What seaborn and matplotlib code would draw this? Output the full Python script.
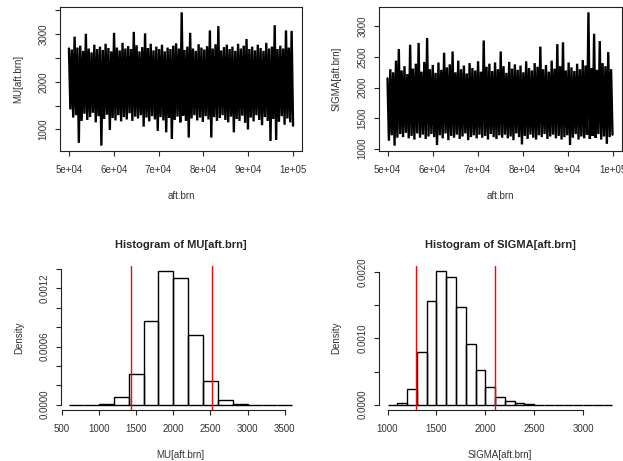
import numpy as np
import pandas as pd
import seaborn as sns
import matplotlib
matplotlib.use('Agg')
import matplotlib.pyplot as plt

# ---- data ----
iter_start, iter_end = 50000, 100000

mu_trace = [
    2700, 1420, 2680, 1250, 2950, 1300, 2720, 720, 2760, 1180, 2650, 1330, 3010, 1200, 2700, 1260,
    2620, 1350, 2780, 1150, 2690, 1280, 2740, 660, 2670, 1220, 2800, 1310, 2710, 990, 2640, 1240,
    3030, 1190, 2720, 1300, 2660, 1170, 2820, 1260, 2700, 1210, 2750, 1340, 2690, 1180, 3050, 1270,
    2770, 1230, 2640, 1300, 2730, 1060, 3020, 1250, 2710, 1170, 2800, 1280, 2660, 1210, 2740, 970,
    2690, 1260, 2780, 1190, 2640, 940, 2720, 1240, 2690, 800, 2760, 1200, 2810, 1270, 2700, 1150,
    3460, 1290, 2670, 1180, 2740, 830, 3030, 1230, 2700, 1300, 2650, 1190, 2790, 1250, 2720, 1160,
    2680, 1280, 2750, 1210, 3080, 830, 2700, 1260, 2790, 1180, 3170, 1240, 2660, 1300, 2730, 1200,
    2780, 1150, 2690, 1270, 2740, 940, 2650, 1220, 2800, 1180, 2700, 1290, 2760, 1140, 2900, 1000,
    2690, 1250, 2740, 1170, 2660, 1300, 2780, 1200, 2710, 1090, 2650, 1260, 2820, 1180, 2700, 760,
    2740, 1220, 3190, 780, 2690, 1160, 2760, 1280, 2700, 1100, 3080, 1230, 2720, 1150, 3070, 1080,
]

sigma_trace = [
    2150, 1130, 2300, 1220, 2250, 1050, 2440, 1180, 2630, 1240, 2280, 1190, 2350, 1260, 2220, 1170,
    2700, 1210, 2310, 1150, 2390, 1250, 2730, 1180, 2260, 1230, 2420, 1160, 2810, 1200, 2300, 1240,
    2370, 1190, 2240, 1060, 2410, 1220, 2290, 1170, 2570, 1250, 2330, 1140, 2380, 1210, 2590, 1180,
    2250, 1230, 2440, 1160, 2300, 1200, 2360, 1250, 2230, 1140, 2400, 1190, 2320, 1220, 2280, 1170,
    2430, 1230, 2260, 1180, 2770, 1210, 2340, 1150, 2390, 1240, 2270, 1190, 2410, 1160, 2300, 1220,
    2590, 1180, 2350, 1230, 2240, 1170, 2420, 1200, 2310, 1140, 2380, 1250, 2290, 1190, 2360, 1070,
    2250, 1210, 2430, 1160, 2320, 1230, 2280, 1180, 2400, 1150, 2340, 1220, 2670, 1190, 2300, 1240,
    2370, 1160, 2260, 1200, 2440, 1230, 2310, 1170, 2710, 1210, 2350, 1150, 2740, 1190, 2280, 1220,
    2410, 1060, 2330, 1180, 2270, 1240, 2390, 1150, 2300, 1200, 2450, 1170, 2360, 1230, 3230, 1160,
    2320, 1210, 2880, 1180, 2290, 1240, 2760, 1150, 2400, 1200, 2350, 1080, 2580, 1190, 2300, 1230,
]

trace_xticks = [50000, 60000, 70000, 80000, 90000, 100000]
trace_xticklabels = ['5e+04', '6e+04', '7e+04', '8e+04', '9e+04', '1e+05']

mu_breaks = list(range(600, 3601, 200))
mu_density = [0, 0, 0.000007, 0.000076, 0.000318, 0.000868, 0.001376, 0.001307,
              0.000719, 0.000249, 0.000048, 0.000007, 0, 0, 0]
mu_lines = [1431, 2515]

sigma_breaks = list(range(1000, 3301, 100))
sigma_density = [0, 0.00002, 0.000238, 0.000795, 0.001564, 0.002015, 0.001924, 0.001478,
                 0.000921, 0.000521, 0.000273, 0.000122, 0.000061, 0.00003, 0.000015,
                 0, 0, 0, 0, 0, 0, 0, 0]
sigma_lines = [1290, 2097]


def r_lim(lo, hi):
    # R pads axis ranges by 4% on each side
    d = (hi - lo) * 0.04
    return lo - d, hi + d


sns.set_theme(style='ticks')
plt.rcParams['font.family'] = ['Liberation Sans', 'DejaVu Sans']
plt.rcParams.update({
    'axes.linewidth': 0.8,
    'xtick.major.size': 3.4, 'ytick.major.size': 3.4,
    'xtick.major.width': 0.8, 'ytick.major.width': 0.8,
    'xtick.major.pad': 7, 'ytick.major.pad': 4.7,
    'xtick.labelsize': 7, 'ytick.labelsize': 7,
    'axes.labelsize': 7,
    'xtick.labelcolor': '#333333', 'ytick.labelcolor': '#333333',
    'axes.labelcolor': '#333333',
})

fig = plt.figure(figsize=(6.23, 4.61), dpi=100)
W, H = 623, 461


def px_axes(x0, y0, x1, y1):
    return fig.add_axes([x0 / W, 1 - y1 / H, (x1 - x0) / W, (y1 - y0) / H])


def place_labels(ax, xlabel, ylabel, width_px, height_px):
    ax.set_xlabel(xlabel)
    ax.set_ylabel(ylabel)
    ax.xaxis.label.set_va('center')
    ax.yaxis.label.set_va('center')
    ax.xaxis.set_label_coords(0.5, -45 / height_px)
    ax.yaxis.set_label_coords(-42 / width_px, 0.5)


def trace_panel(ax, values, ylabel, yticks, ylabels):
    iters = np.linspace(iter_start, iter_end, len(values))
    sns.lineplot(x=iters, y=values, color='black', linewidth=1.7,
                 solid_joinstyle='bevel', ax=ax)
    ax.set_xlim(r_lim(iter_start, iter_end))
    ax.set_ylim(r_lim(min(values), max(values)))
    ax.set_xticks(trace_xticks)
    ax.set_xticklabels(trace_xticklabels)
    ax.set_yticks(yticks)
    ax.set_yticklabels(ylabels, rotation=90, va='center')
    for s in ax.spines.values():
        s.set_color('#222222')
    place_labels(ax, 'aft.brn', ylabel, 242, 144)


def hist_panel(ax, breaks, density, lines, title, xlabel, xticks, yticks, ylabels):
    mids = [(a + b) / 2 for a, b in zip(breaks[:-1], breaks[1:])]
    df = pd.DataFrame({'value': mids, 'density': density})
    sns.histplot(data=df, x='value', weights='density', bins=breaks, stat='count',
                 fill=False, color='black', linewidth=1.0, ax=ax)
    for v in lines:
        ax.axvline(v, color='red', linewidth=1.0)
    ax.set_xlim(r_lim(breaks[0], breaks[-1]))
    ax.set_ylim(r_lim(0, max(density)))
    ax.set_xticks(xticks)
    ax.set_xticklabels([str(t) for t in xticks])
    ax.set_yticks(yticks)
    ax.set_yticklabels(ylabels, rotation=90, va='center')
    sns.despine(ax=ax)
    ax.spines['bottom'].set_bounds(xticks[0], xticks[-1])
    ax.spines['left'].set_bounds(yticks[0], yticks[-1])
    ax.spines['bottom'].set_color('#222222')
    ax.spines['left'].set_color('#222222')
    ax.set_title(title, fontsize=8, fontweight='bold', pad=13)
    place_labels(ax, xlabel, 'Density', 242, 144)


ax1 = px_axes(60, 7, 302, 151)
trace_panel(ax1, mu_trace, 'MU[aft.brn]',
            [1000, 1500, 2000, 2500, 3000, 3500], ['1000', '', '2000', '', '3000', ''])

ax2 = px_axes(378.5, 7, 621.5, 151)
trace_panel(ax2, sigma_trace, 'SIGMA[aft.brn]',
            [1000, 1500, 2000, 2500, 3000], ['1000', '1500', '2000', '2500', '3000'])

ax3 = px_axes(60.5, 266, 301, 410)
hist_panel(ax3, mu_breaks, mu_density, mu_lines, 'Histogram of MU[aft.brn]', 'MU[aft.brn]',
           [500, 1000, 1500, 2000, 2500, 3000, 3500],
           [0, 0.0002, 0.0004, 0.0006, 0.0008, 0.0010, 0.0012, 0.0014],
           ['0.0000', '', '', '0.0006', '', '', '0.0012', ''])

ax4 = px_axes(378.5, 266, 621.5, 410)
hist_panel(ax4, sigma_breaks, sigma_density, sigma_lines, 'Histogram of SIGMA[aft.brn]',
           'SIGMA[aft.brn]',
           [1000, 1500, 2000, 2500, 3000],
           [0, 0.0005, 0.0010, 0.0015, 0.0020],
           ['0.0000', '', '0.0010', '', '0.0020'])

fig.savefig('out.png', dpi=100)
